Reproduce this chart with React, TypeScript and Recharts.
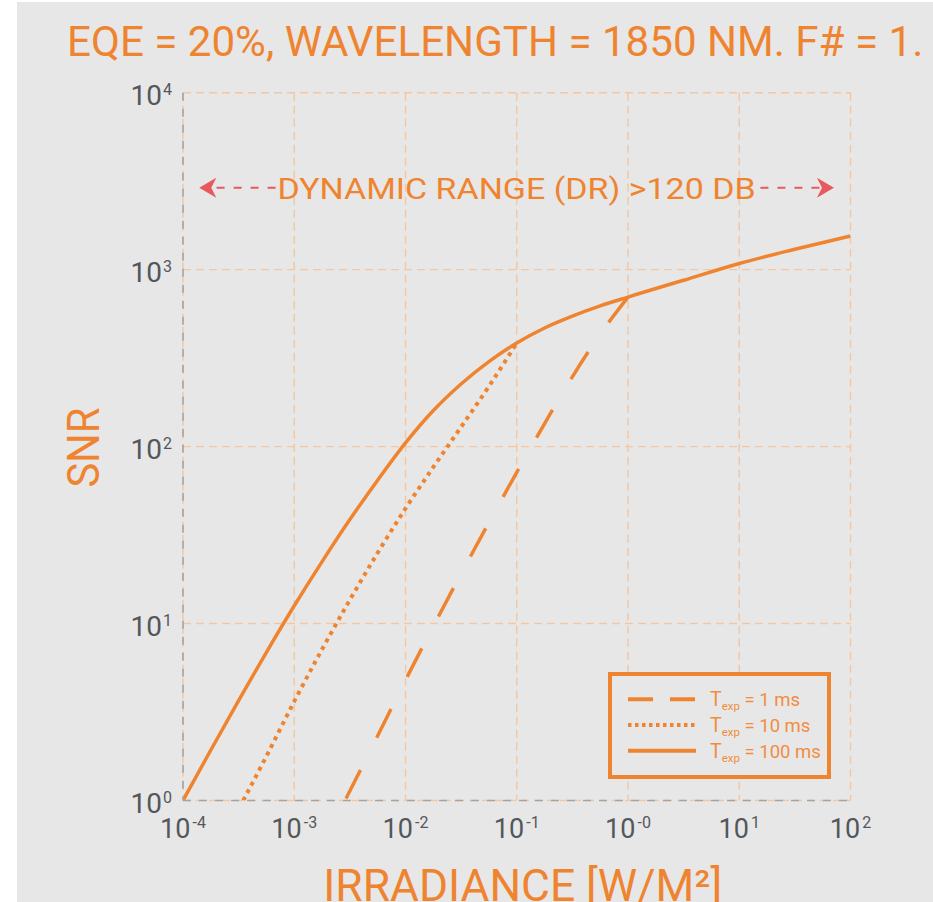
import React, { useLayoutEffect, useRef, useState } from 'react';
import { LineChart, Line, XAxis, YAxis, CartesianGrid, Legend, ReferenceLine, Label } from 'recharts';

const ORANGE = '#ef8430';
const LEGEND_TEXT = '#f08d40';
const BG = '#e8e7e7';
const GRID = '#f2c7a2';
const AXIS_GRAY = '#a4a4a4';
const TICK_TEXT = '#53575b';
const ARROW_RED = '#e8585e';
const FONT = 'Roboto, "Noto Sans", sans-serif';

// ---- axis ticks ----
const xTicks = [1e-4, 1e-3, 1e-2, 1e-1, 1, 10, 100];
const xTickExponents = ['-4', '-3', '-2', '-1', '-0', '1', '2'];
const yTicks = [1, 10, 100, 1000, 10000];
const yTickExponents = ['0', '1', '2', '3', '4'];

// ---- series (irradiance W/m², SNR) ----
const seriesNames = ['1 ms', '10 ms', '100 ms'];

// 1 ms listed from the merge point downwards (dash pattern starts at the merge)
const irradiance1ms = [1.0, 0.562, 0.316, 0.178, 0.1, 0.0562, 0.0316, 0.0178, 0.01, 0.00562, 0.00286];
const snr1ms = [700, 432, 248, 135, 71.6, 37.2, 19.1, 9.66, 4.79, 2.32, 1];

const irradiance10ms = [0.000348, 0.000562, 0.001, 0.00178, 0.00316, 0.00562, 0.01, 0.0178, 0.0316, 0.0562, 0.1];
const snr10ms = [1, 1.78, 3.63, 7.16, 13.6, 25.1, 44.7, 76.7, 129, 219, 385];

const irradiance100ms = [0.0001, 0.000178, 0.000316, 0.000562, 0.001, 0.00178, 0.00316, 0.00562, 0.01, 0.0178, 0.0316, 0.0562, 0.1, 0.178, 0.316, 0.562, 1, 3.16, 10, 31.6, 100];
const snr100ms = [1, 1.93, 3.67, 6.88, 12.6, 22.4, 38.7, 64.6, 105, 160, 226, 302, 385, 468, 546, 624, 700, 871, 1084, 1303, 1549];

// ---- dynamic range annotation ----
const drText = 'DYNAMIC RANGE (DR) >120 DB';
const drSnr = 2900;
const drLeftArrow = [0.00014, 0.00068];
const drRightArrow = [15.5, 71];

const titleText = 'EQE = 20%, WAVELENGTH = 1850 NM. F# = 1.';

const toRows = (xs: number[], ys: number[]) => xs.map((x, i) => ({ irradiance: x, snr: ys[i] }));
const data1ms = toRows(irradiance1ms, snr1ms);
const data10ms = toRows(irradiance10ms, snr10ms);
const data100ms = toRows(irradiance100ms, snr100ms);

const seriesDash = ['32 36', '4 4.5', undefined];
const legendDash = ['25 17', '3.5 3.5', undefined];

const XTick = (props: any) => {
  const { x, y, payload } = props;
  const idx = xTicks.findIndex((t) => Math.abs(Math.log10(t) - Math.log10(payload.value)) < 1e-6);
  return (
    <text x={x} y={y} dy={37.5} textAnchor="middle" fill={TICK_TEXT} fontFamily={FONT} fontSize={27}>
      10<tspan fontSize={16} dy={-10} dx={2}>{xTickExponents[idx]}</tspan>
    </text>
  );
};

const YTick = (props: any) => {
  const { x, y, payload } = props;
  const idx = yTicks.findIndex((t) => Math.abs(Math.log10(t) - Math.log10(payload.value)) < 1e-6);
  return (
    <text x={x - 11} y={y} dy={12.5} textAnchor="end" fill={TICK_TEXT} fontFamily={FONT} fontSize={28}>
      10<tspan fontSize={16} dy={-10} dx={1}>{yTickExponents[idx]}</tspan>
    </text>
  );
};

const LeftArrowShape = (p: any) => {
  const l = Math.min(p.x1, p.x2);
  const r = Math.max(p.x1, p.x2);
  const y = p.y1;
  return (
    <g>
      <line x1={r} y1={y} x2={l + 12} y2={y} stroke={ARROW_RED} strokeWidth={2} strokeDasharray="8 9" />
      <polygon points={`${l},${y} ${l + 17},${y - 10} ${l + 12},${y} ${l + 17},${y + 10}`} fill={ARROW_RED} />
    </g>
  );
};

const RightArrowShape = (p: any) => {
  const l = Math.min(p.x1, p.x2);
  const r = Math.max(p.x1, p.x2);
  const y = p.y1;
  return (
    <g>
      <line x1={l} y1={y} x2={r - 12} y2={y} stroke={ARROW_RED} strokeWidth={2} strokeDasharray="8 9" />
      <polygon points={`${r},${y} ${r - 17},${y - 10} ${r - 12},${y} ${r - 17},${y + 10}`} fill={ARROW_RED} />
    </g>
  );
};

const DrTextShape = (p: any) => {
  const cx = (p.x1 + p.x2) / 2;
  return (
    <text x={cx} y={p.y1} dy={10.8} textAnchor="middle" fill={ORANGE} fontFamily={FONT} fontSize={30}
      textLength={478} lengthAdjust="spacingAndGlyphs">
      {drText}
    </text>
  );
};

const renderLegend = () => (
  <div style={{ boxSizing: 'border-box', width: 223, height: 107, border: `4px solid ${ORANGE}`, background: BG }}>
    <svg width={215} height={99} style={{ display: 'block' }}>
      {seriesNames.map((name, i) => {
        const cy = 23.3 + i * 25.7;
        return (
          <g key={name}>
            <line x1={16} y1={cy} x2={84} y2={cy} stroke={ORANGE} strokeWidth={4} strokeDasharray={legendDash[i]} />
            <text x={98} y={cy + 7} fill={LEGEND_TEXT} fontFamily={FONT} fontSize={19.5}>
              T<tspan fontSize={11.5} dy={4}>exp</tspan>
              <tspan fontSize={18.5} dy={-4}>{` = ${name}`}</tspan>
            </text>
          </g>
        );
      })}
    </svg>
  </div>
);

function Title() {
  const ref = useRef<SVGTextElement>(null);
  const [k, setK] = useState(0.8);
  useLayoutEffect(() => {
    if (ref.current) {
      const w = ref.current.getComputedTextLength();
      if (w > 0) setK(856 / w);
    }
  }, []);
  return (
    <svg width={916} height={80} style={{ position: 'absolute', left: 0, top: 0, pointerEvents: 'none' }}>
      <text ref={ref} x={0} y={0} transform={`translate(50 54) scale(${k} 1)`} fill={ORANGE} fontFamily={FONT} fontSize={43}>
        {titleText}
      </text>
    </svg>
  );
}

export default function App() {
  return (
    <div style={{ position: 'absolute', left: 17, top: 2, width: 916, height: 900, background: BG, overflow: 'hidden' }}>
      <LineChart width={916} height={900} margin={{ top: 90.7, right: 82.5, left: 106, bottom: 61.5 }}>
        <CartesianGrid stroke={GRID} strokeDasharray="8 5" strokeWidth={1.4} />
        <XAxis
          dataKey="irradiance"
          type="number"
          scale="log"
          domain={[1e-4, 100]}
          ticks={xTicks}
          allowDataOverflow
          height={40}
          tickSize={0}
          tickMargin={0}
          tickLine={false}
          tick={<XTick />}
          axisLine={{ stroke: AXIS_GRAY, strokeDasharray: '8 8', strokeWidth: 1.6 }}
          interval={0}
        >
          <Label
            content={(p: any) => {
              const vb = p.viewBox || { x: 166, y: 798.5, width: 667.5, height: 40 };
              return (
                <text x={vb.x + vb.width / 2 + 6} y={vb.y + 100.5} textAnchor="middle" fill={ORANGE}
                  fontFamily={FONT} fontSize={44} textLength={399} lengthAdjust="spacingAndGlyphs">
                  IRRADIANCE [W/M²]
                </text>
              );
            }}
          />
        </XAxis>
        <YAxis
          dataKey="snr"
          type="number"
          scale="log"
          domain={[1, 10000]}
          ticks={yTicks}
          allowDataOverflow
          width={60}
          tickSize={0}
          tickMargin={0}
          tickLine={false}
          tick={<YTick />}
          axisLine={{ stroke: AXIS_GRAY, strokeDasharray: '8 8', strokeWidth: 1.6 }}
          interval={0}
        >
          <Label
            content={(p: any) => {
              const vb = p.viewBox || { x: 106, y: 90.7, width: 60, height: 707.8 };
              const cx = vb.x + vb.width - 99;
              const cy = vb.y + vb.height / 2 + 1;
              return (
                <text x={cx} y={cy} dy={15.5} transform={`rotate(-90 ${cx} ${cy})`} textAnchor="middle"
                  fill={ORANGE} fontFamily={FONT} fontSize={44} textLength={80} lengthAdjust="spacingAndGlyphs">
                  SNR
                </text>
              );
            }}
          />
        </YAxis>
        <ReferenceLine
          segment={[{ x: drLeftArrow[0], y: drSnr }, { x: drLeftArrow[1], y: drSnr }]}
          shape={LeftArrowShape}
        />
        <ReferenceLine
          segment={[{ x: drRightArrow[0], y: drSnr }, { x: drRightArrow[1], y: drSnr }]}
          shape={RightArrowShape}
        />
        <ReferenceLine
          segment={[{ x: drLeftArrow[0], y: drSnr }, { x: drRightArrow[1], y: drSnr }]}
          shape={DrTextShape}
        />
        <Line data={data1ms} dataKey="snr" name={seriesNames[0]} type="monotone" stroke={ORANGE} strokeWidth={3.5}
          strokeDasharray={seriesDash[0]} dot={false} activeDot={false} isAnimationActive={false} />
        <Line data={data10ms} dataKey="snr" name={seriesNames[1]} type="monotone" stroke={ORANGE} strokeWidth={4}
          strokeDasharray={seriesDash[1]} dot={false} activeDot={false} isAnimationActive={false} />
        <Line data={data100ms} dataKey="snr" name={seriesNames[2]} type="monotone" stroke={ORANGE} strokeWidth={3.5}
          dot={false} activeDot={false} isAnimationActive={false} />
        <Legend
          layout="vertical"
          align="center"
          verticalAlign="middle"
          content={renderLegend}
          wrapperStyle={{ position: 'absolute', left: 591, top: 670, width: 223, height: 107 }}
        />
      </LineChart>
      <Title />
    </div>
  );
}
